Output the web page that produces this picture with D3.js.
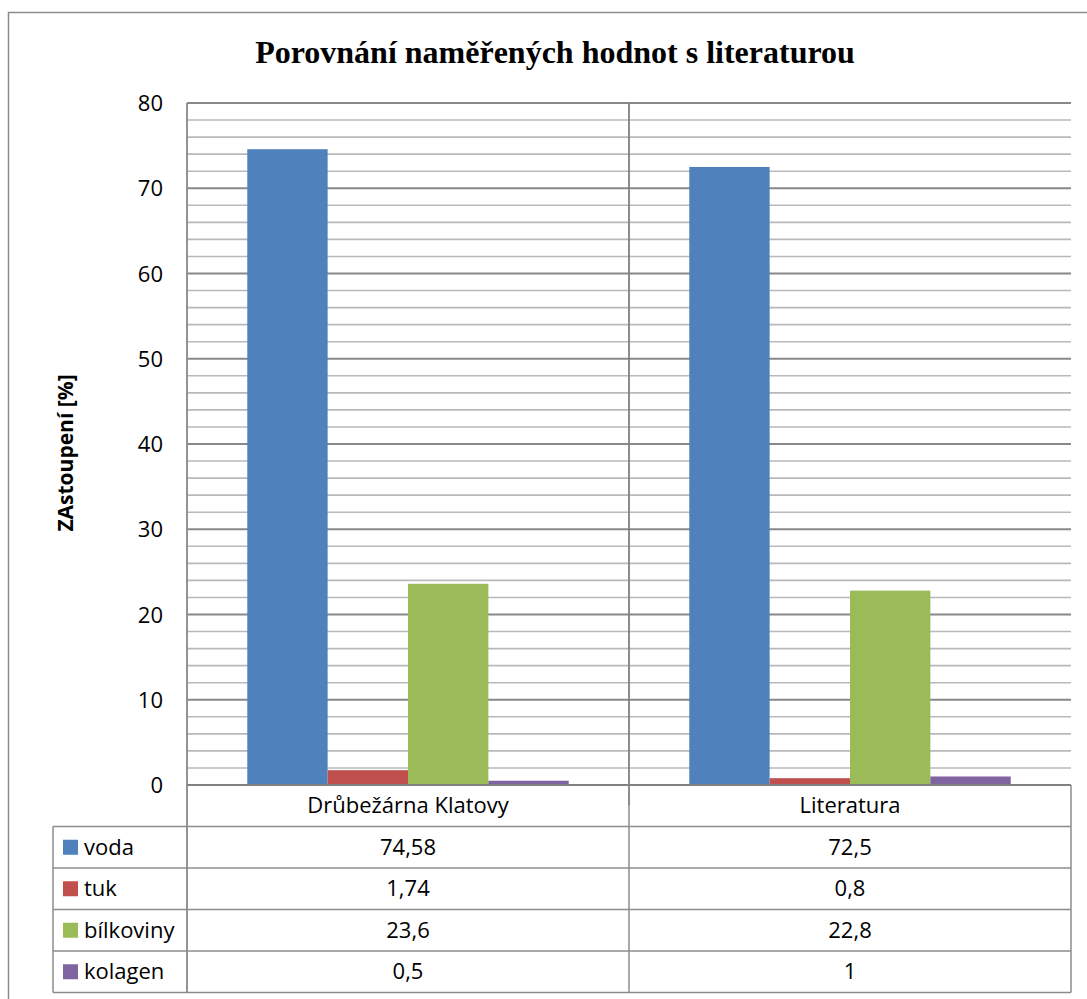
<!DOCTYPE html>
<html>
<head>
<meta charset="utf-8">
<script src="https://cdn.jsdelivr.net/npm/d3@7"></script>
<style>
  html, body { margin: 0; padding: 0; background: #fff; }
  svg { display: block; }
</style>
</head>
<body>
<svg id="chart" width="1087" height="999"></svg>
<script>
// Data: composition of poultry meat, measured vs. literature values
const categories = ["Drůbežárna Klatovy", "Literatura"];
const seriesNames = ["voda", "tuk", "bílkoviny", "kolagen"];
const voda = [74.58, 72.5];
const tuk = [1.74, 0.8];
const bilkoviny = [23.6, 22.8];
const kolagen = [0.5, 1];
const seriesValues = [voda, tuk, bilkoviny, kolagen];
const seriesColors = ["#4F81BD", "#C0504D", "#9BBB59", "#8064A2"];
const yTicks = [0, 10, 20, 30, 40, 50, 60, 70, 80];
const titleText = "Porovnání naměřených hodnot s literaturou";
const yAxisTitle = "ZAstoupení [%]";

const svg = d3.select("#chart");
const plot = { left: 187, right: 1071, top: 103, bottom: 785 };
const legendColLeft = 53;
const rowH = 41.5;
const sansFont = "'Open Sans', Lato, sans-serif";
const textSize = 22;

// Outer chart frame
svg.append("rect")
  .attr("x", 8.5).attr("y", 12.5)
  .attr("width", 1100).attr("height", 1000)
  .attr("fill", "#fff").attr("stroke", "#8c8c8c").attr("stroke-width", 1.5);

// Title
svg.append("text")
  .attr("x", 555).attr("y", 63)
  .attr("text-anchor", "middle")
  .attr("font-family", "'Liberation Serif', 'Times New Roman', serif")
  .attr("font-weight", "bold")
  .attr("font-size", 32)
  .attr("fill", "#000")
  .text(titleText);

// Scales
const y = d3.scaleLinear().domain([0, 80]).range([plot.bottom, plot.top]);
const x0 = d3.scaleBand().domain(categories).range([plot.left, plot.right]);
const x1 = d3.scaleBand().domain(seriesNames).range([0, x0.bandwidth()])
  .paddingInner(0).paddingOuter(0.75);

// Gridlines: minor every 2, major every 10
const minor = d3.range(2, 80, 2).filter(v => v % 10 !== 0);
svg.append("g").selectAll("line").data(minor).join("line")
  .attr("x1", plot.left).attr("x2", plot.right)
  .attr("y1", d => y(d)).attr("y2", d => y(d))
  .attr("stroke", "#b9b9b9").attr("stroke-width", 1.6);
svg.append("g").selectAll("line").data(yTicks.filter(v => v > 0)).join("line")
  .attr("x1", plot.left).attr("x2", plot.right)
  .attr("y1", d => y(d)).attr("y2", d => y(d))
  .attr("stroke", "#888").attr("stroke-width", 1.8);

// Category divider inside plot
svg.append("line")
  .attr("x1", x0(categories[1])).attr("x2", x0(categories[1]))
  .attr("y1", plot.top).attr("y2", plot.bottom + 20)
  .attr("stroke", "#808080").attr("stroke-width", 1.8);

// Bars
const groups = svg.append("g").selectAll("g").data(seriesNames).join("g")
  .attr("fill", (d, i) => seriesColors[i]);
groups.selectAll("rect")
  .data((s, i) => categories.map((c, j) => ({ c, s, v: seriesValues[i][j] })))
  .join("rect")
  .attr("x", d => x0(d.c) + x1(d.s))
  .attr("width", x1.bandwidth())
  .attr("y", d => y(d.v))
  .attr("height", d => y(0) - y(d.v));

// Y axis (labels only, line drawn separately)
const yAxis = d3.axisLeft(y).tickValues(yTicks).tickSize(0).tickPadding(24);
const yg = svg.append("g").attr("transform", `translate(${plot.left},0)`).call(yAxis);
yg.select(".domain").remove();
yg.selectAll("text")
  .attr("font-family", sansFont).attr("font-size", textSize).attr("fill", "#000")
  .attr("dy", "0.35em");

// Axis lines
svg.append("line")
  .attr("x1", plot.left).attr("x2", plot.left)
  .attr("y1", plot.top).attr("y2", plot.bottom + 5 * rowH)
  .attr("stroke", "#888").attr("stroke-width", 1.8);
svg.append("line")
  .attr("x1", plot.left).attr("x2", plot.right)
  .attr("y1", plot.bottom).attr("y2", plot.bottom)
  .attr("stroke", "#808080").attr("stroke-width", 2);

// Y axis title
svg.append("text")
  .attr("transform", `translate(73,${(plot.top + plot.bottom) / 2 + 9}) rotate(-90)`)
  .attr("text-anchor", "middle")
  .attr("font-family", sansFont).attr("font-weight", "bold").attr("font-size", 21)
  .attr("fill", "#000")
  .text(yAxisTitle);

// Data table below the plot
const table = svg.append("g");
const headerTop = plot.bottom;
const bodyTop = headerTop + rowH;
const tableBottom = bodyTop + seriesNames.length * rowH;
const lineColor = "#8c8c8c";

// Header row with category names
table.selectAll("text.cat").data(categories).join("text")
  .attr("class", "cat")
  .attr("x", d => x0(d) + x0.bandwidth() / 2)
  .attr("y", headerTop + rowH / 2)
  .attr("dy", "0.35em")
  .attr("text-anchor", "middle")
  .attr("font-family", sansFont).attr("font-size", textSize).attr("fill", "#000")
  .text(d => d);

// Horizontal table lines
const hLines = d3.range(seriesNames.length + 1).map(i => bodyTop + i * rowH);
table.selectAll("line.h").data(hLines).join("line")
  .attr("class", "h")
  .attr("x1", legendColLeft).attr("x2", plot.right)
  .attr("y1", d => d).attr("y2", d => d)
  .attr("stroke", lineColor).attr("stroke-width", 1.5);

// Vertical table lines
table.append("line")
  .attr("x1", legendColLeft).attr("x2", legendColLeft)
  .attr("y1", bodyTop).attr("y2", tableBottom)
  .attr("stroke", lineColor).attr("stroke-width", 1.5);
table.selectAll("line.v").data([x0(categories[1]), plot.right]).join("line")
  .attr("class", "v")
  .attr("x1", d => d).attr("x2", d => d)
  .attr("y1", headerTop).attr("y2", tableBottom)
  .attr("stroke", lineColor).attr("stroke-width", 1.5);

// Legend keys and series names
const rows = table.selectAll("g.row").data(seriesNames).join("g")
  .attr("class", "row")
  .attr("transform", (d, i) => `translate(0,${bodyTop + i * rowH})`);
rows.append("rect")
  .attr("x", 63).attr("y", rowH / 2 - 7.5)
  .attr("width", 15).attr("height", 15)
  .attr("fill", (d, i) => seriesColors[i]);
rows.append("text")
  .attr("x", 84).attr("y", rowH / 2).attr("dy", "0.35em")
  .attr("font-family", sansFont).attr("font-size", textSize).attr("fill", "#000")
  .text(d => d);

// Value cells
const fmt = v => String(v).replace(".", ",");
rows.selectAll("text.val")
  .data((s, i) => categories.map((c, j) => ({ c, v: seriesValues[i][j] })))
  .join("text")
  .attr("class", "val")
  .attr("x", d => x0(d.c) + x0.bandwidth() / 2)
  .attr("y", rowH / 2).attr("dy", "0.35em")
  .attr("text-anchor", "middle")
  .attr("font-family", sansFont).attr("font-size", textSize).attr("fill", "#000")
  .text(d => fmt(d.v));
</script>
</body>
</html>
